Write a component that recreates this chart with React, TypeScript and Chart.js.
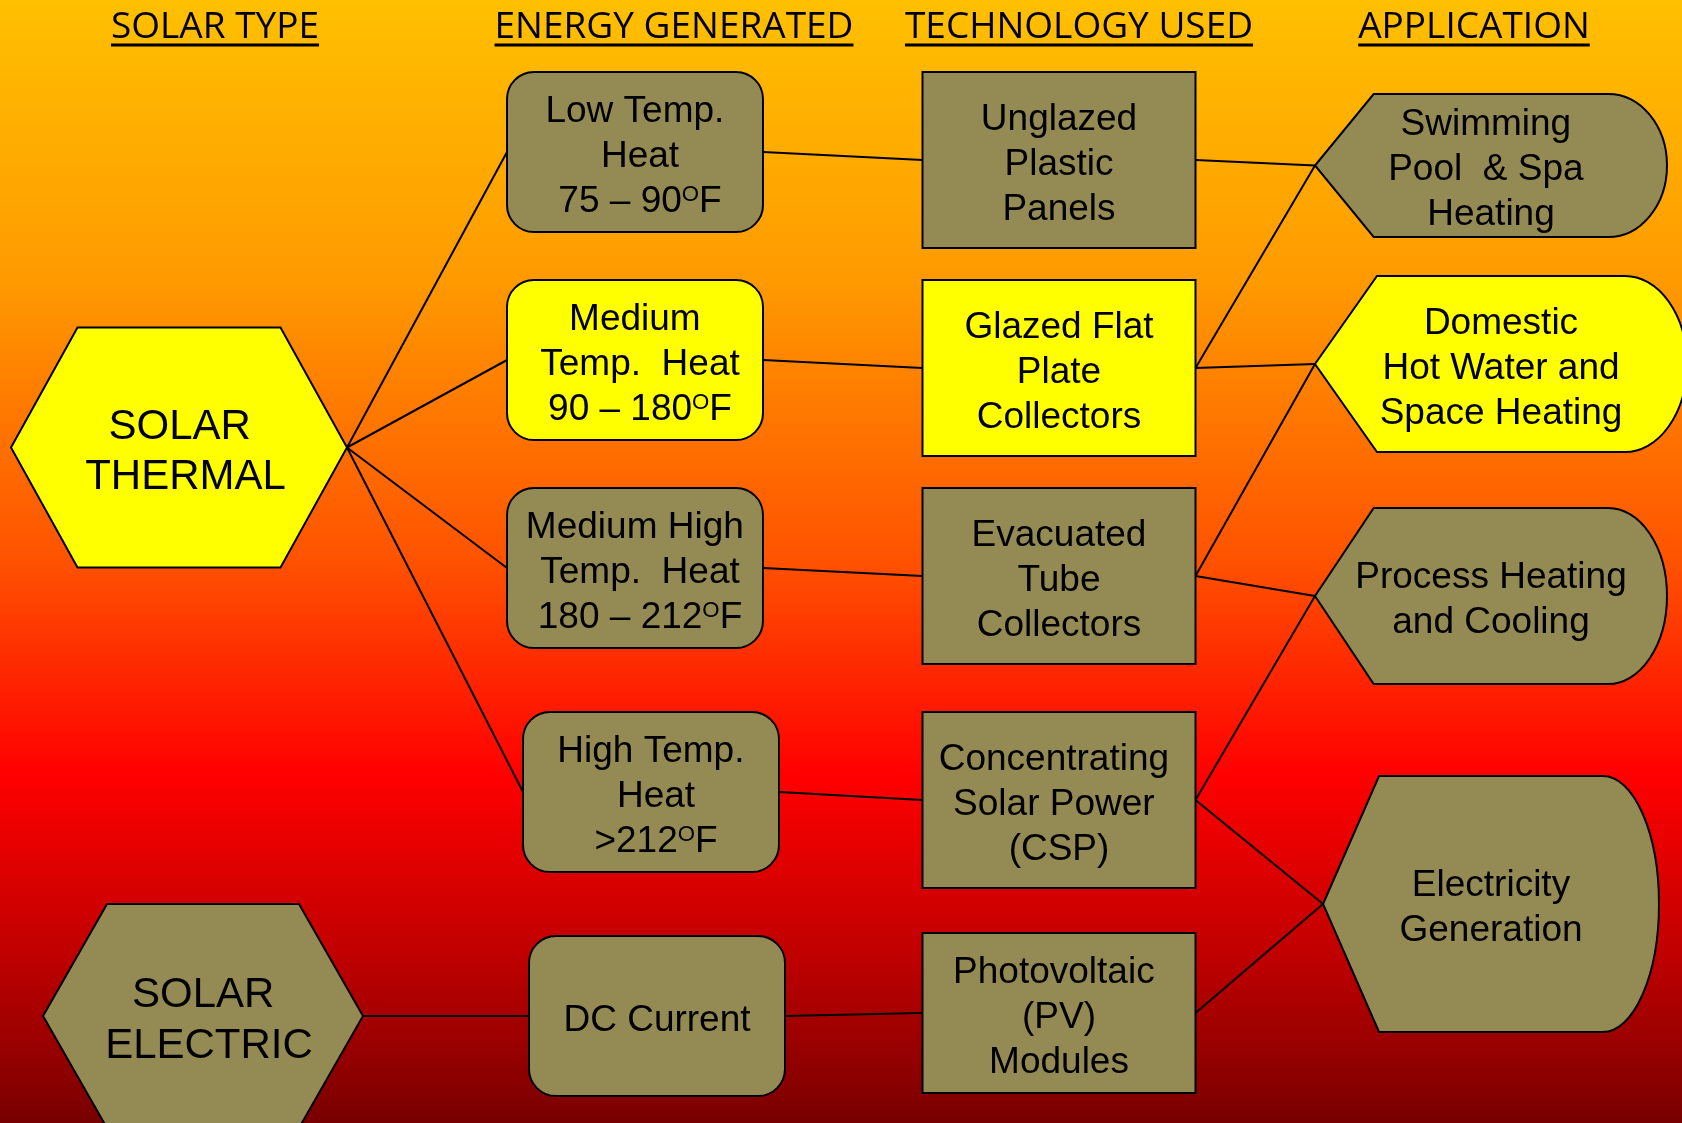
import React, { useEffect, useRef } from 'react';
import { Chart, registerables } from 'chart.js';

Chart.register(...registerables);

// ---------------- DATA ----------------
const headers = ['SOLAR TYPE', 'ENERGY GENERATED', 'TECHNOLOGY USED', 'APPLICATION'];

const solarTypes = [
  ['SOLAR ', 'THERMAL'],
  ['SOLAR ', 'ELECTRIC'],
];

const energyGenerated = [
  ['Low Temp. ', 'Heat', '75 – 90{O}F'],
  ['Medium ', 'Temp.  Heat', '90 – 180{O}F'],
  ['Medium High ', 'Temp.  Heat', '180 – 212{O}F'],
  ['High Temp. ', 'Heat', '>212{O}F'],
  ['DC Current'],
];

const technologyUsed = [
  ['Unglazed', 'Plastic', 'Panels'],
  ['Glazed Flat', 'Plate', 'Collectors'],
  ['Evacuated', 'Tube', 'Collectors'],
  ['Concentrating ', 'Solar Power ', '(CSP)'],
  ['Photovoltaic ', '(PV)', 'Modules'],
];

const applications = [
  ['Swimming ', 'Pool  & Spa ', 'Heating'],
  ['Domestic', 'Hot Water and', 'Space Heating'],
  ['Process Heating', 'and Cooling'],
  ['Electricity', 'Generation'],
];

const typeHighlighted = [true, false];
const energyHighlighted = [false, true, false, false, false];
const techHighlighted = [false, true, false, false, false];
const appHighlighted = [false, true, false, false];

// links: [from index, to index]
const typeToEnergy = [[0, 0], [0, 1], [0, 2], [0, 3], [1, 4]];
const energyToTech = [[0, 0], [1, 1], [2, 2], [3, 3], [4, 4]];
const techToApp = [[0, 0], [1, 0], [1, 1], [2, 1], [2, 2], [3, 2], [3, 3], [4, 3]];

// ---------------- LAYOUT (data units of the hidden linear scales) ----------------
const W = 1682;
const H = 1123;
const headerCenters = [215, 674, 1079, 1474];
const headerBaseline = 37.5;

type Box = { x: number; y: number; w: number; h: number; inset?: number; dx?: number };

const typeBoxes: Box[] = [
  { x: 11, y: 327.5, w: 336, h: 240, inset: 66.5, dx: 6.5 },
  { x: 43, y: 904, w: 320, h: 224, inset: 64, dx: 6 },
];
const energyBoxes: Box[] = [
  { x: 507, y: 72, w: 256, h: 160, dx: 5 },
  { x: 507, y: 280, w: 256, h: 160, dx: 5 },
  { x: 507, y: 488, w: 256, h: 160, dx: 5 },
  { x: 523, y: 712, w: 256, h: 160, dx: 5 },
  { x: 529, y: 936, w: 256, h: 160 },
];
const techBoxes: Box[] = [
  { x: 922.5, y: 72, w: 273, h: 176 },
  { x: 922.5, y: 280, w: 273, h: 176 },
  { x: 922.5, y: 488, w: 273, h: 176 },
  { x: 922.5, y: 712, w: 273, h: 176 },
  { x: 922.5, y: 933, w: 273, h: 160 },
];
const appBoxes: Box[] = [
  { x: 1315, y: 94, w: 352, h: 143 },
  { x: 1315, y: 276, w: 372, h: 176 },
  { x: 1315, y: 508, w: 352, h: 176 },
  { x: 1323, y: 776, w: 336, h: 256 },
];

const OLIVE = '#948A54';
const YELLOW = '#FFFF00';
const BODY_FONT = '"Liberation Sans", Arial, sans-serif';
const HEAD_FONT = '"Open Sans", sans-serif';

const centers = (boxes: Box[]) => boxes.map((b) => ({ x: b.x + b.w / 2, y: b.y + b.h / 2 }));

function drawLines(
  ctx: CanvasRenderingContext2D,
  lines: string[],
  cx: number,
  cy: number,
  size: number,
  lh: number
) {
  const supSize = size * 0.6;
  const cap = size * 0.716;
  ctx.fillStyle = '#000';
  ctx.textBaseline = 'alphabetic';
  ctx.textAlign = 'left';
  lines.forEach((line, i) => {
    const parts = line.split(/(\{O\})/).filter((p) => p.length);
    const segs = parts.map((p) => ({ text: p === '{O}' ? 'O' : p, sup: p === '{O}' }));
    let total = 0;
    segs.forEach((s) => {
      ctx.font = `${s.sup ? supSize : size}px ${BODY_FONT}`;
      total += ctx.measureText(s.text).width;
    });
    let x = cx - total / 2;
    const base = cy + (i - (lines.length - 1) / 2) * lh + cap / 2 + 1.5;
    segs.forEach((s) => {
      ctx.font = `${s.sup ? supSize : size}px ${BODY_FONT}`;
      ctx.fillText(s.text, x, s.sup ? base - size * 0.3 : base);
      x += ctx.measureText(s.text).width;
    });
  });
}

const diagramPlugin = {
  id: 'solarDiagram',
  beforeDraw(chart: any) {
    const { ctx } = chart;
    const ys = chart.scales.y;
    const g = ctx.createLinearGradient(0, ys.getPixelForValue(0), 0, ys.getPixelForValue(H));
    g.addColorStop(0, '#FFC000');
    g.addColorStop(0.25, '#FF9A00');
    g.addColorStop(0.5, '#FF5200');
    g.addColorStop(0.69, '#FF0000');
    g.addColorStop(0.85, '#C00000');
    g.addColorStop(1, '#780000');
    ctx.save();
    ctx.fillStyle = g;
    ctx.fillRect(0, 0, chart.width, chart.height);
    ctx.restore();
  },
  afterDatasetsDraw(chart: any) {
    const { ctx } = chart;
    const xs = chart.scales.x;
    const ys = chart.scales.y;
    const px = (v: number) => xs.getPixelForValue(v);
    const py = (v: number) => ys.getPixelForValue(v);
    const rect = (b: Box) => {
      const x = px(b.x);
      const y = py(b.y);
      return {
        x,
        y,
        w: px(b.x + b.w) - x,
        h: py(b.y + b.h) - y,
        inset: b.inset ? px(b.x + b.inset) - x : 0,
        dx: b.dx ? px(b.x + b.dx) - x : 0,
      };
    };

    ctx.save();
    // links
    ctx.strokeStyle = '#000';
    ctx.lineWidth = 2;
    const link = (a: Box, b: Box) => {
      const ra = rect(a);
      const rb = rect(b);
      ctx.beginPath();
      ctx.moveTo(ra.x + ra.w, ra.y + ra.h / 2);
      ctx.lineTo(rb.x, rb.y + rb.h / 2);
      ctx.stroke();
    };
    typeToEnergy.forEach(([a, b]) => link(typeBoxes[a], energyBoxes[b]));
    energyToTech.forEach(([a, b]) => link(energyBoxes[a], techBoxes[b]));
    techToApp.forEach(([a, b]) => link(techBoxes[a], appBoxes[b]));

    const finish = (fill: string) => {
      ctx.fillStyle = fill;
      ctx.fill();
      ctx.lineWidth = 2;
      ctx.strokeStyle = '#000';
      ctx.stroke();
    };

    // solar types: hexagons
    typeBoxes.forEach((b, i) => {
      const r = rect(b);
      ctx.beginPath();
      ctx.moveTo(r.x, r.y + r.h / 2);
      ctx.lineTo(r.x + r.inset, r.y);
      ctx.lineTo(r.x + r.w - r.inset, r.y);
      ctx.lineTo(r.x + r.w, r.y + r.h / 2);
      ctx.lineTo(r.x + r.w - r.inset, r.y + r.h);
      ctx.lineTo(r.x + r.inset, r.y + r.h);
      ctx.closePath();
      finish(typeHighlighted[i] ? YELLOW : OLIVE);
      drawLines(ctx, solarTypes[i], r.x + r.w / 2 + r.dx, r.y + r.h / 2, 42, 50.5);
    });

    // energy: rounded rects
    energyBoxes.forEach((b, i) => {
      const r = rect(b);
      ctx.beginPath();
      ctx.roundRect(r.x, r.y, r.w, r.h, 27);
      finish(energyHighlighted[i] ? YELLOW : OLIVE);
      drawLines(ctx, energyGenerated[i], r.x + r.w / 2 + r.dx, r.y + r.h / 2, 37, 45);
    });

    // technology: rects
    techBoxes.forEach((b, i) => {
      const r = rect(b);
      ctx.beginPath();
      ctx.rect(r.x, r.y, r.w, r.h);
      finish(techHighlighted[i] ? YELLOW : OLIVE);
      drawLines(ctx, technologyUsed[i], r.x + r.w / 2 + r.dx, r.y + r.h / 2, 37, 45);
    });

    // applications: display shapes
    appBoxes.forEach((b, i) => {
      const r = rect(b);
      const k = r.w / 6;
      ctx.beginPath();
      ctx.moveTo(r.x, r.y + r.h / 2);
      ctx.lineTo(r.x + k, r.y);
      ctx.lineTo(r.x + 5 * k, r.y);
      ctx.ellipse(r.x + 5 * k, r.y + r.h / 2, k, r.h / 2, 0, -Math.PI / 2, Math.PI / 2);
      ctx.lineTo(r.x + k, r.y + r.h);
      ctx.closePath();
      finish(appHighlighted[i] ? YELLOW : OLIVE);
      drawLines(ctx, applications[i], r.x + r.w / 2 + r.dx, r.y + r.h / 2, 37, 45);
    });

    // headers
    ctx.fillStyle = '#000';
    ctx.font = `37px ${HEAD_FONT}`;
    ctx.textAlign = 'left';
    ctx.textBaseline = 'alphabetic';
    headers.forEach((t, i) => {
      const w = ctx.measureText(t).width;
      const x = px(headerCenters[i]) - w / 2;
      const y = py(headerBaseline);
      ctx.fillText(t, x, y);
      ctx.fillRect(x, y + 6, w, 3);
    });
    ctx.restore();
  },
};

export default function App() {
  const ref = useRef<HTMLCanvasElement>(null);
  useEffect(() => {
    document.body.style.margin = '0';
    if (!ref.current) return;
    const mk = (boxes: Box[], label: string) => ({
      label,
      data: centers(boxes),
      pointRadius: 0,
      pointHoverRadius: 0,
      showLine: false,
    });
    const chart = new Chart(ref.current, {
      type: 'scatter',
      data: {
        datasets: [
          mk(typeBoxes, headers[0]),
          mk(energyBoxes, headers[1]),
          mk(techBoxes, headers[2]),
          mk(appBoxes, headers[3]),
        ],
      },
      options: {
        responsive: false,
        animation: false,
        devicePixelRatio: 1,
        layout: { padding: 0 },
        events: [],
        scales: {
          x: { type: 'linear', min: 0, max: W, display: false },
          y: { type: 'linear', min: 0, max: H, reverse: true, display: false },
        },
        plugins: {
          legend: { display: false },
          tooltip: { enabled: false },
          title: { display: false },
        },
      },
      plugins: [diagramPlugin],
    });
    return () => chart.destroy();
  }, []);
  return (
    <div style={{ position: 'absolute', left: 0, top: 0, width: W, height: H }}>
      <canvas ref={ref} width={W} height={H} style={{ display: 'block' }} />
    </div>
  );
}
